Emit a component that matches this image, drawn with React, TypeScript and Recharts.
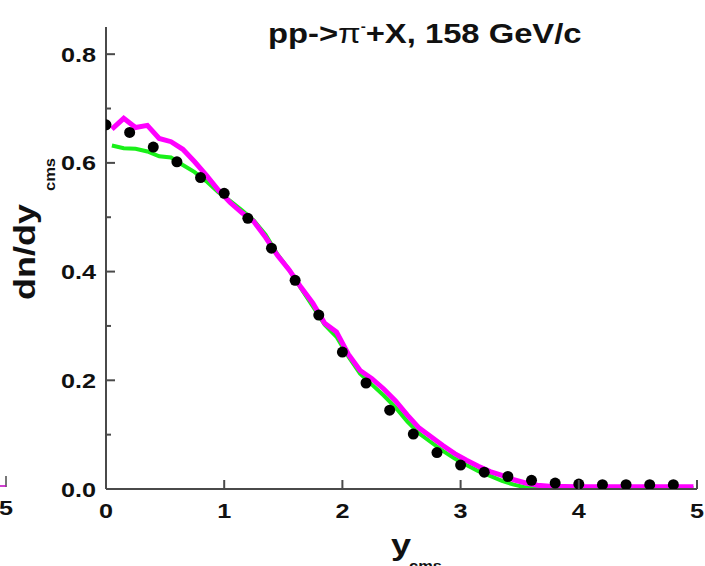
import React from 'react';
import { ComposedChart, Line, Scatter, XAxis, YAxis } from 'recharts';

// Data points (black dots)
const dotX = [0, 0.2, 0.4, 0.6, 0.8, 1.0, 1.2, 1.4, 1.6, 1.8, 2.0, 2.2, 2.4, 2.6, 2.8, 3.0, 3.2, 3.4, 3.6, 3.8, 4.0, 4.2, 4.4, 4.6, 4.8];
const dotY = [0.670, 0.656, 0.629, 0.602, 0.573, 0.544, 0.498, 0.443, 0.384, 0.320, 0.252, 0.195, 0.145, 0.101, 0.067, 0.044, 0.031, 0.023, 0.016, 0.011, 0.009, 0.008, 0.008, 0.008, 0.008];

// Model curves
const curveX = [0.05, 0.15, 0.25, 0.35, 0.45, 0.55, 0.65, 0.75, 0.85, 0.95, 1.05, 1.15, 1.25, 1.35, 1.45, 1.55, 1.65, 1.75, 1.85, 1.95, 2.05, 2.15, 2.25, 2.35, 2.45, 2.55, 2.65, 2.75, 2.85, 2.95, 3.05, 3.15, 3.25, 3.35, 3.45, 3.55, 3.65, 3.75, 4.0, 4.5, 4.97];
const magentaY = [0.662, 0.682, 0.665, 0.669, 0.645, 0.639, 0.625, 0.602, 0.577, 0.550, 0.527, 0.508, 0.492, 0.463, 0.430, 0.403, 0.371, 0.342, 0.305, 0.289, 0.248, 0.218, 0.203, 0.184, 0.162, 0.136, 0.112, 0.096, 0.080, 0.065, 0.053, 0.042, 0.032, 0.025, 0.017, 0.011, 0.007, 0.005, 0.004, 0.004, 0.004];
const greenY = [0.632, 0.627, 0.626, 0.621, 0.612, 0.610, 0.596, 0.583, 0.566, 0.546, 0.530, 0.513, 0.494, 0.468, 0.432, 0.403, 0.369, 0.336, 0.302, 0.280, 0.244, 0.212, 0.192, 0.172, 0.150, 0.124, 0.102, 0.086, 0.070, 0.056, 0.044, 0.033, 0.024, 0.015, 0.008, 0.003, 0.002, 0.002, 0.002, 0.002, 0.002];

const xTicks = [0, 1, 2, 3, 4, 5];
const yTicks = [0, 0.1, 0.2, 0.3, 0.4, 0.5, 0.6, 0.7, 0.8];
const yMajorLabels = ['0.0', '0.2', '0.4', '0.6', '0.8'];

const dotData = dotX.map((x, i) => ({ x, y: dotY[i] }));
const magentaData = curveX.map((x, i) => ({ x, y: magentaY[i] }));
const greenData = curveX.map((x, i) => ({ x, y: greenY[i] }));

const FONT = '"Liberation Sans", Arial, Helvetica, sans-serif';
const AXIS = '#4a4a4a';
const TEXT = '#111';

const YTick = (props: any) => {
  const { y, payload } = props;
  const x = 106;
  const k = Math.round(payload.value * 10);
  const major = k % 2 === 0;
  return (
    <g>
      <line x1={x} x2={x + (major ? 9 : 5)} y1={y} y2={y} stroke={AXIS} strokeWidth={2} />
      {major && (
        <text
          transform={`translate(${x - 10},${y + 7.5}) scale(1.2,1)`}
          textAnchor="end"
          fontFamily={FONT}
          fontWeight="bold"
          fontSize={21}
          fill={TEXT}
        >
          {yMajorLabels[k / 2]}
        </text>
      )}
    </g>
  );
};

const XTick = (props: any) => {
  const { x, payload } = props;
  const y = 489;
  return (
    <g>
      {payload.value !== 0 && (
        <line x1={x} x2={x} y1={y} y2={y - 9} stroke={AXIS} strokeWidth={2} />
      )}
      <text
        transform={`translate(${x},${y + 29}) scale(1.2,1)`}
        textAnchor="middle"
        fontFamily={FONT}
        fontWeight="bold"
        fontSize={21}
        fill={TEXT}
      >
        {String(payload.value)}
      </text>
    </g>
  );
};

const Dot = (props: any) => {
  const { cx, cy } = props;
  return <circle cx={cx} cy={cy} r={5.5} fill="#000" />;
};

export default function App() {
  return (
    <div style={{ position: 'absolute', left: 0, top: 0, width: 705, height: 566, background: '#fff', overflow: 'hidden' }}>
      <ComposedChart
        width={705}
        height={566}
        margin={{ top: 27, right: 8, left: 96, bottom: 67 }}
      >
        <XAxis
          type="number"
          dataKey="x"
          domain={[0, 5]}
          ticks={xTicks}
          interval={0}
          height={10}
          tickSize={0}
          tickMargin={0}
          tickLine={false}
          axisLine={{ stroke: AXIS, strokeWidth: 2 }}
          tick={<XTick />}
          allowDataOverflow
        />
        <YAxis
          type="number"
          dataKey="y"
          domain={[0, 0.85]}
          ticks={yTicks}
          interval={0}
          width={10}
          tickSize={0}
          tickMargin={0}
          tickLine={false}
          axisLine={{ stroke: AXIS, strokeWidth: 2 }}
          tick={<YTick />}
          allowDataOverflow
        />
        <Scatter data={dotData} dataKey="y" shape={<Dot />} isAnimationActive={false} />
        <Line data={greenData} dataKey="y" type="linear" stroke="#19f019" strokeWidth={4} dot={false} isAnimationActive={false} />
        <Line data={magentaData} dataKey="y" type="linear" stroke="#ff00ff" strokeWidth={5} dot={false} isAnimationActive={false} />
      </ComposedChart>
      <svg width={705} height={566} style={{ position: 'absolute', left: 0, top: 0, pointerEvents: 'none' }}>
        <text
          transform="translate(268,43) scale(1.17,1)"
          fontFamily={FONT}
          fontWeight="bold"
          fontSize={28}
          fill={TEXT}
        >
          pp-&gt;<tspan fontWeight="normal">π</tspan>
          <tspan dy={-12} fontSize={13}>-</tspan>
          <tspan dy={12}>+X, 158 GeV/c</tspan>
        </text>
        <text
          transform="translate(35,252) rotate(-90) scale(1.2,1)"
          textAnchor="middle"
          fontFamily={FONT}
          fontWeight="bold"
          fontSize={30}
          fill={TEXT}
        >
          dn/dy
        </text>
        <text
          transform="translate(55,191) rotate(-90) scale(1.1,1)"
          textAnchor="start"
          fontFamily={FONT}
          fontWeight="bold"
          fontSize={15}
          fill={TEXT}
        >
          cms
        </text>
        <text
          transform="translate(391,555) scale(1.2,1)"
          fontFamily={FONT}
          fontWeight="bold"
          fontSize={30}
          fill={TEXT}
        >
          y
        </text>
        <text
          transform="translate(409,571) scale(1.1,1)"
          fontFamily={FONT}
          fontWeight="bold"
          fontSize={15}
          fill={TEXT}
        >
          cms
        </text>
        <text
          transform="translate(6,515) scale(1.2,1)"
          textAnchor="middle"
          fontFamily={FONT}
          fontWeight="bold"
          fontSize={21}
          fill={TEXT}
        >
          5
        </text>
        <line x1={6} x2={6} y1={476} y2={487} stroke={AXIS} strokeWidth={1.5} />
        <line x1={0} x2={6} y1={486} y2={486} stroke="#c000c0" strokeWidth={1.5} />
      </svg>
    </div>
  );
}
